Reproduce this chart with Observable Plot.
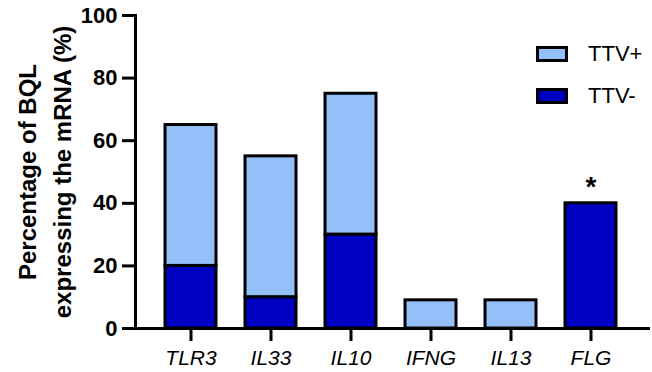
<!DOCTYPE html>
<html><head><meta charset="utf-8">
<script src="https://cdn.jsdelivr.net/npm/d3@7"></script>
<script src="https://cdn.jsdelivr.net/npm/@observablehq/plot@0.6"></script>
<style>
body{margin:0;background:#fff;}
#wrap{position:relative;width:652px;height:372px;font-family:"Liberation Sans",Arial,sans-serif;}
.legend{position:absolute;left:536px;font-size:22px;display:flex;align-items:center;line-height:1;}
.sw{box-sizing:border-box;width:32px;height:16px;border:3px solid #000;margin-right:20px;}
</style></head><body><div id="wrap"></div>
<script>
const genes = ["TLR3","IL33","IL10","IFNG","IL13","FLG"];
const ttvNeg = [20,10,30,0,0,40];
const ttvPos = [45,45,45,9,9,0];
const seriesNames = ["TTV-","TTV+"];
const seriesColors = ["#0000C0","#93C0F8"];
const yTicks = [0,20,40,60,80,100];
const significant = ["FLG"];
const yTitle = "Percentage of BQL\nexpressing the mRNA (%)";

const rows = genes.flatMap((g,i)=>[
  {gene:g, series:seriesNames[0], value:ttvNeg[i]},
  {gene:g, series:seriesNames[1], value:ttvPos[i]}
]).filter(d=>d.value>0);
const stars = significant.map(g=>{const i=genes.indexOf(g);return {gene:g,total:ttvNeg[i]+ttvPos[i]};});

const chart = Plot.plot({
  width:652, height:372,
  marginLeft:135, marginRight:2, marginTop:15, marginBottom:44,
  style:{fontFamily:"'Liberation Sans', Arial, sans-serif", background:"#fff", color:"#000"},
  x:{domain:genes, range:[135,646], padding:0.36},
  y:{domain:[0,100]},
  color:{domain:seriesNames, range:seriesColors},
  marks:[
    Plot.barY(rows,{x:"gene", y:"value", fill:"series", stroke:"#000", strokeWidth:3, order:seriesNames}),
    Plot.frame({anchor:"left", stroke:"#000", strokeWidth:3}),
    Plot.ruleY([0],{stroke:"#000", strokeWidth:3}),
    Plot.axisY({ticks:yTicks, label:null, tickSize:13, tickPadding:5, stroke:"#000", strokeWidth:3, fontSize:22, fontWeight:"bold"}),
    Plot.axisX({label:null, tickSize:13, tickPadding:9, stroke:"#000", strokeWidth:3, fontSize:21, fontStyle:"italic"}),
    Plot.text(stars,{x:"gene", y:"total", text:()=>"*", dy:-16, fontSize:28, fontWeight:"bold"}),
    Plot.text([yTitle],{text:d=>d, frameAnchor:"left", textAnchor:"middle", rotate:-90, dx:-93, fontSize:24, fontWeight:"bold", lineHeight:1.45, lineAnchor:"middle"})
  ]
});
const wrap = document.getElementById("wrap");
wrap.appendChild(chart);
[[1,43],[0,85]].forEach(([i,top])=>{
  const d=document.createElement("div");d.className="legend";d.style.top=top+"px";
  const s=document.createElement("div");s.className="sw";s.style.background=seriesColors[i];
  const t=document.createElement("span");t.textContent=seriesNames[i];
  d.appendChild(s);d.appendChild(t);wrap.appendChild(d);
});
</script></body></html>
